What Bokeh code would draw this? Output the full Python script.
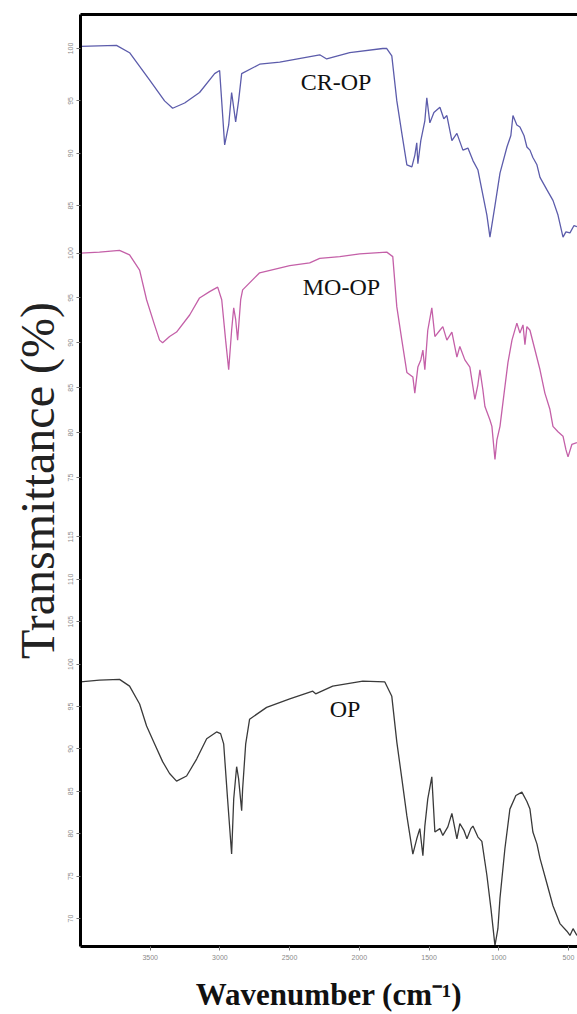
import numpy as np
from bokeh.plotting import figure
from bokeh.models import Range1d, FixedTicker, LinearAxis
from bokeh.core.properties import value
from bokeh.embed import file_html
from bokeh.resources import INLINE

# ---------------- data ----------------
cr_wn = [4000, 3742, 3648, 3505, 3397, 3339, 3253, 3146, 3038, 3002, 2966, 2937, 2916, 2887, 2866, 2844,
         2715, 2571, 2284, 2234, 2069, 1832, 1803, 1767, 1731, 1695, 1659, 1623, 1602, 1588, 1580, 1559,
         1530, 1516, 1494, 1465, 1422, 1394, 1372, 1336, 1300, 1257, 1221, 1185, 1149, 1121, 1085, 1063,
         1027, 991, 941, 913, 898, 870, 848, 819, 798, 776, 755, 726, 704, 654, 611, 575, 539, 518, 489,
         460, 439]
cr_t = [100.2, 100.3, 99.6, 97.0, 95.0, 94.3, 94.8, 95.8, 97.6, 97.9, 90.8, 92.7, 95.8, 93.0, 95.0, 97.6,
        98.5, 98.7, 99.4, 99.0, 99.6, 100.0, 100.0, 99.3, 95.0, 91.9, 88.9, 88.7, 89.8, 91.0, 89.0, 91.2,
        93.1, 95.3, 92.9, 93.9, 94.4, 93.3, 93.6, 91.2, 91.9, 90.3, 90.5, 89.3, 88.4, 86.5, 84.1, 82.0,
        85.0, 88.1, 90.6, 91.7, 93.6, 92.7, 92.5, 91.7, 90.6, 90.3, 89.6, 88.9, 87.7, 86.5, 85.5, 84.1,
        82.0, 82.5, 82.4, 83.1, 83.0]

mo_wn = [4000, 3864, 3720, 3648, 3576, 3526, 3469, 3433, 3411, 3361, 3311, 3217, 3146, 3074, 3016, 2987,
         2959, 2937, 2916, 2901, 2887, 2873, 2851, 2837, 2715, 2499, 2356, 2284, 2140, 1997, 1803, 1760,
         1731, 1695, 1659, 1616, 1602, 1580, 1559, 1544, 1530, 1509, 1480, 1458, 1422, 1401, 1372, 1336,
         1300, 1279, 1243, 1207, 1171, 1150, 1135, 1114, 1099, 1063, 1049, 1027, 1013, 991, 963, 934, 905,
         870, 848, 826, 812, 798, 776, 740, 704, 669, 633, 611, 575, 539, 518, 503, 475, 439]
mo_t = [100.0, 100.1, 100.3, 99.8, 98.1, 94.8, 92.0, 90.3, 90.0, 90.7, 91.2, 93.1, 95.0, 95.7, 96.2, 94.8,
        90.3, 87.0, 91.4, 93.9, 92.6, 90.3, 94.8, 95.9, 97.8, 98.6, 98.9, 99.4, 99.6, 99.9, 100.1, 99.6,
        94.0, 90.3, 86.7, 86.2, 84.4, 87.3, 88.1, 89.2, 87.0, 91.4, 93.9, 90.7, 91.4, 91.8, 90.3, 91.2,
        88.4, 89.6, 88.1, 87.3, 83.7, 85.3, 87.0, 84.8, 82.9, 81.4, 80.7, 77.0, 79.2, 80.7, 84.2, 87.8, 90.3,
        92.2, 91.1, 92.0, 89.8, 91.8, 91.4, 89.2, 87.0, 84.4, 82.6, 80.7, 80.1, 79.6, 78.1, 77.3, 78.7, 78.9]

op_wn = [4000, 3864, 3720, 3648, 3576, 3526, 3469, 3411, 3361, 3311, 3239, 3167, 3095, 3024, 2995, 2973,
         2945, 2916, 2901, 2880, 2866, 2844, 2837, 2815, 2787, 2665, 2499, 2334, 2313, 2191, 1975, 1817,
         1767, 1731, 1695, 1659, 1616, 1588, 1566, 1544, 1530, 1509, 1480, 1458, 1422, 1401, 1365, 1336,
         1300, 1279, 1250, 1228, 1200, 1185, 1149, 1121, 1085, 1056, 1027, 1006, 991, 956, 920, 877, 834,
         798, 776, 755, 726, 704, 654, 611, 561, 511, 489, 467, 439]
op_t = [97.9, 98.1, 98.2, 97.4, 95.3, 92.7, 90.6, 88.5, 87.1, 86.2, 86.8, 88.8, 91.2, 92.0, 91.8, 90.6,
        84.1, 77.6, 84.1, 87.9, 86.5, 82.7, 85.3, 90.6, 93.5, 94.9, 95.9, 96.8, 96.5, 97.4, 98.0, 97.9,
        96.2, 90.8, 86.5, 82.1, 77.6, 79.4, 80.6, 77.4, 80.9, 84.1, 86.7, 80.2, 80.6, 79.8, 80.8, 82.4,
        79.4, 81.2, 80.4, 79.4, 80.6, 80.9, 79.6, 79.1, 75.1, 71.2, 66.8, 68.8, 72.4, 78.2, 82.9, 84.5, 84.9,
        83.8, 82.9, 80.2, 78.8, 77.1, 74.1, 71.5, 69.4, 68.5, 68.0, 68.8, 68.0]

x_ticks = [3500, 3000, 2500, 2000, 1500, 1000, 500]
cr_ticks = [100, 95, 90, 85]
mo_ticks = [100, 95, 90, 85, 80, 75]
op_ticks = [115, 110, 105, 100, 95, 90, 85, 80, 75, 70]

label_names = ["CR-OP", "MO-OP", "OP"]
label_wn = [2420, 2406, 2212]
label_t = [96.8, 96.2, 94.7]

# ---------------- layout of the stacked panels (on the OP axis scale) ----------------
PANELS = {"CR-OP": (10.5 / 8.5, 49.06), "MO-OP": (9.0 / 8.5, 42.59), "OP": (1.0, 0.0)}
COLORS = {"CR-OP": "#5c5cab", "MO-OP": "#c460a8", "OP": "#3a3a3a"}


def place(name, t):
    s, o = PANELS[name]
    return o + s * np.asarray(t, dtype=float)


p = figure(width=577, height=1014, output_backend="svg", toolbar_location=None,
           x_range=Range1d(4000, 435), y_range=Range1d(66.7, 176.6),
           min_border_left=80, min_border_right=0, min_border_top=14, min_border_bottom=66,
           background_fill_color="white", border_fill_color="white")
p.outline_line_color = None
p.grid.visible = False

for name, wn, t in [("CR-OP", cr_wn, cr_t), ("MO-OP", mo_wn, mo_t), ("OP", op_wn, op_t)]:
    p.line(wn, place(name, t), line_color=COLORS[name], line_width=1.3)

lx = []
ly = []
for n, w, t in zip(label_names, label_wn, label_t):
    lx.append(w)
    ly.append(float(place(n, [t])[0]))
p.text(x=lx, y=ly, text=label_names, text_font=value("Liberation Serif"), text_font_size="24px",
       text_color="#111111", text_align="left", text_baseline="alphabetic")

# y ticks, one set per panel
ticks = []
overrides = {}
for name, tl in [("CR-OP", cr_ticks), ("MO-OP", mo_ticks), ("OP", op_ticks)]:
    for t in tl:
        u = round(float(place(name, [t])[0]), 3)
        ticks.append(u)
        overrides[u] = str(t)

yax = p.yaxis[0]
yax.ticker = FixedTicker(ticks=ticks)
yax.major_label_overrides = overrides
yax.major_label_orientation = "vertical"
yax.major_label_text_font_size = "7px"
yax.major_label_text_color = "#8a8a8a"
yax.major_label_standoff = 3
yax.major_tick_out = 4
yax.major_tick_in = 0
yax.major_tick_line_color = "#777777"
yax.minor_tick_line_color = None
yax.axis_line_width = 3
yax.axis_line_color = "black"
yax.axis_label = "Transmittance (%)"
yax.axis_label_text_font = "Liberation Serif"
yax.axis_label_text_font_style = "normal"
yax.axis_label_text_font_size = "48px"
yax.axis_label_text_color = "#222222"
yax.axis_label_standoff = 2

xax = p.xaxis[0]
xax.ticker = FixedTicker(ticks=x_ticks)
xax.major_label_text_font_size = "7px"
xax.major_label_text_color = "#8a8a8a"
xax.major_label_standoff = 4
xax.major_tick_out = 4
xax.major_tick_in = 0
xax.major_tick_line_color = "#777777"
xax.minor_tick_line_color = None
xax.axis_line_width = 3
xax.axis_line_color = "black"
xax.axis_label = "Wavenumber (cm\u207b\u00b9)"
xax.axis_label_text_font = "Liberation Serif"
xax.axis_label_text_font_style = "bold"
xax.axis_label_text_font_size = "31px"
xax.axis_label_text_color = "#111111"
xax.axis_label_standoff = 14

top = LinearAxis(axis_line_width=3, axis_line_color="black", major_tick_line_color=None,
                 minor_tick_line_color=None, major_label_text_font_size="0px",
                 ticker=FixedTicker(ticks=[]))
p.add_layout(top, "above")

open("out.html", "w").write(file_html(p, INLINE))
